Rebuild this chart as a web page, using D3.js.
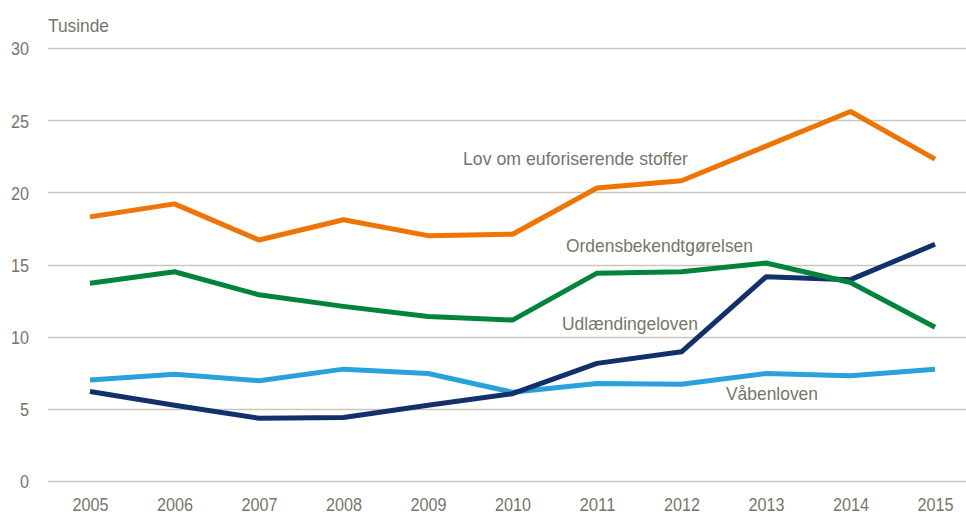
<!DOCTYPE html>
<html lang="da">
<head>
<meta charset="utf-8">
<title>Tusinde</title>
<script src="https://d3js.org/d3.v7.min.js"></script>
<style>
  body { margin: 0; background: #fff; }
  svg text { font-family: "Liberation Sans Narrow", "Arial Narrow", "Liberation Sans", sans-serif; fill: #76766a; }
</style>
</head>
<body>
<div id="chart"></div>
<script>
// years on the x axis
var years = ["2005", "2006", "2007", "2008", "2009", "2010", "2011", "2012", "2013", "2014", "2015"];
var yTicks = [0, 5, 10, 15, 20, 25, 30];

// values in thousands
var euforiserende = [18.3, 19.2, 16.7, 18.1, 17.0, 17.1, 20.3, 20.8, 23.2, 25.6, 22.3];
var orden = [13.7, 14.5, 12.9, 12.1, 11.4, 11.15, 14.4, 14.5, 15.1, 13.75, 10.65];
var udlaending = [6.2, 5.25, 4.35, 4.4, 5.25, 6.05, 8.15, 8.95, 14.15, 13.95, 16.4];
var vaaben = [7.0, 7.4, 6.95, 7.75, 7.45, 6.15, 6.75, 6.7, 7.45, 7.3, 7.75];

var seriesNames = ["Lov om euforiserende stoffer", "Ordensbekendtgørelsen", "Udlændingeloven", "Våbenloven"];

var width = 966, height = 515;

var svg = d3.select("#chart").append("svg")
  .attr("width", width)
  .attr("height", height);

var x = d3.scalePoint()
  .domain(years)
  .range([90, 935]);

var y = d3.scaleLinear()
  .domain([0, 30])
  .range([481, 48]);

// gridlines
svg.append("g")
  .selectAll("line")
  .data(yTicks)
  .enter().append("line")
  .attr("x1", 48)
  .attr("x2", width)
  .attr("y1", function(d){ return Math.round(y(d)) + 0.5; })
  .attr("y2", function(d){ return Math.round(y(d)) + 0.5; })
  .attr("stroke", "#c9c7bc")
  .attr("stroke-width", 1.5);

// y labels (narrow look: about 9px per digit)
var yAxis = d3.axisLeft(y).tickValues(yTicks).tickSize(0).tickPadding(0);
var gy = svg.append("g")
  .attr("transform", "translate(29,0)")
  .call(yAxis);
gy.select(".domain").remove();
gy.selectAll("text")
  .style("font-size", "19px")
  .attr("dy", "0.36em")
  .attr("textLength", function(d){ return String(d).length * 9; })
  .attr("lengthAdjust", "spacingAndGlyphs");

// x labels
var xAxis = d3.axisBottom(x).tickSize(0).tickPadding(0);
var gx = svg.append("g")
  .attr("transform", "translate(0,0)")
  .call(xAxis);
gx.select(".domain").remove();
gx.selectAll("text")
  .style("font-size", "18px")
  .attr("dy", null)
  .attr("y", 511)
  .attr("textLength", 36)
  .attr("lengthAdjust", "spacingAndGlyphs");

svg.append("text")
  .attr("x", 48)
  .attr("y", 32)
  .attr("textLength", 61)
  .attr("lengthAdjust", "spacingAndGlyphs")
  .style("font-size", "19px")
  .text("Tusinde");

var line = d3.line()
  .x(function(d, i){ return x(years[i]); })
  .y(function(d){ return y(d); });

var series = [
  { values: vaaben, color: "#29a2dc" },
  { values: udlaending, color: "#12306b" },
  { values: orden, color: "#00843c" },
  { values: euforiserende, color: "#ee7403" }
];

svg.append("g")
  .selectAll("path")
  .data(series)
  .enter().append("path")
  .attr("d", function(d){ return line(d.values); })
  .attr("fill", "none")
  .attr("stroke", function(d){ return d.color; })
  .attr("stroke-width", 5)
  .attr("stroke-linejoin", "round");

// series labels
var labels = [
  { text: seriesNames[0], x: 463, y: 165, w: 225 },
  { text: seriesNames[1], x: 566, y: 252, w: 187 },
  { text: seriesNames[2], x: 562, y: 330, w: 136 },
  { text: seriesNames[3], x: 726, y: 400, w: 92 }
];
svg.append("g")
  .selectAll("text")
  .data(labels)
  .enter().append("text")
  .attr("x", function(d){ return d.x; })
  .attr("y", function(d){ return d.y; })
  .attr("textLength", function(d){ return d.w; })
  .attr("lengthAdjust", "spacingAndGlyphs")
  .style("font-size", "19px")
  .text(function(d){ return d.text; });
</script>
</body>
</html>
